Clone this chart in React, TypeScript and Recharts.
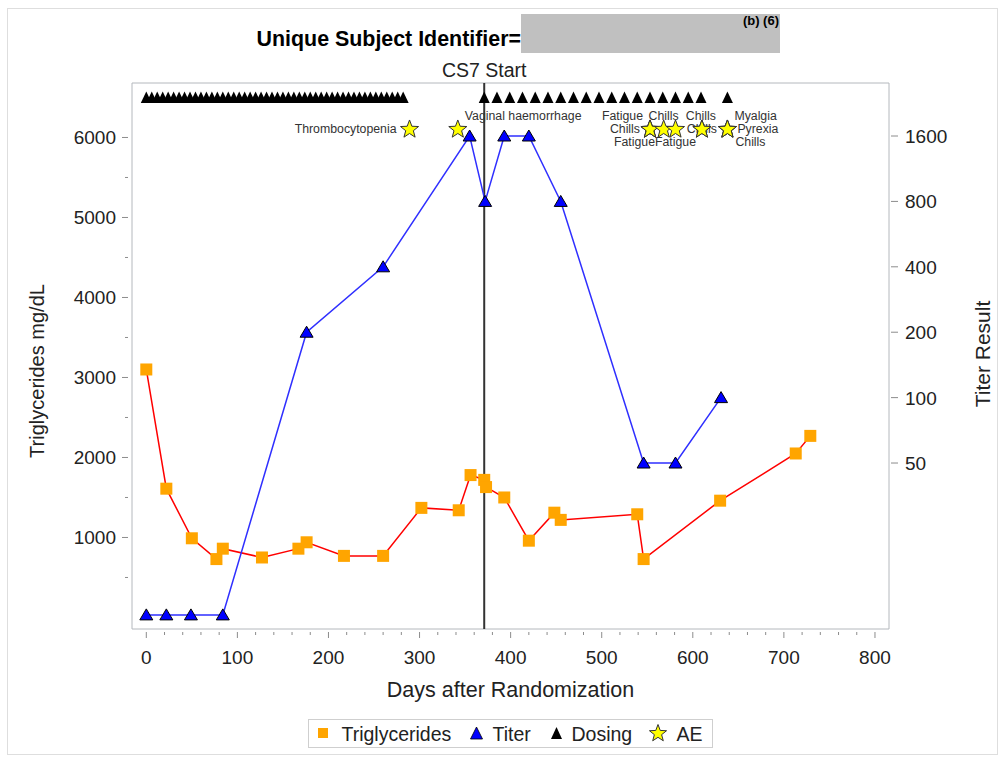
import React from 'react'
import {
  ComposedChart, Line, Scatter, XAxis, YAxis, ReferenceLine, ReferenceArea,
} from 'recharts'

const FONT = '"Liberation Sans", Arial, Helvetica, sans-serif'

// axis ranges
const X_MIN = -15.7
const X_MAX = 815.4
const L_MIN = -144
const L_MAX = 6681
const R_MIN = 8.61
const R_MAX = 2806

const X_TICKS = Array.from({ length: 41 }, (_, i) => i * 20) // major every 100
const L_TICKS = [500, 1000, 1500, 2000, 2500, 3000, 3500, 4000, 4500, 5000, 5500, 6000]
const R_TICKS = [50, 100, 200, 400, 800, 1600]

// triglycerides (mg/dL)
const TG_DAYS = [0, 22, 50, 77, 84, 127, 167, 176, 217, 260, 302, 343, 356, 371, 373, 393, 420, 448, 455, 539, 546, 630, 713, 729]
const TG_VALUES = [3100, 1610, 990, 730, 860, 750, 860, 940, 770, 770, 1370, 1340, 1780, 1720, 1630, 1500, 960, 1310, 1220, 1290, 730, 1460, 2050, 2270]

// titer
const TITER_DAYS = [0, 22, 49, 84, 176, 260, 355, 372, 393, 420, 455, 546, 581, 631]
const TITER_VALUES = [10, 10, 10, 10, 200, 400, 1600, 800, 1600, 1600, 800, 50, 50, 100]

// dosing
const DOSE_DAYS = [
  0, 6, 12, 18, 24, 30, 36, 42, 48, 54, 60, 66, 72, 78, 84, 90, 96, 102, 108, 114, 120, 126, 132, 138,
  144, 150, 156, 162, 168, 174, 180, 186, 192, 198, 204, 210, 216, 222, 228, 234, 240, 246, 252, 258,
  264, 270, 276, 282,
  371, 385, 399, 413, 427, 441, 455, 469, 483, 497, 511, 525, 539, 553, 567, 581, 595, 609, 638,
]
const DOSE_LEVEL = 6500

// adverse events
const AE_DAYS = [289, 342, 553, 553, 553, 568, 581, 610, 610, 638, 638, 638]
const AE_TERMS = [
  'Thrombocytopenia', 'Vaginal haemorrhage', 'Fatigue', 'Chills', 'Fatigue', 'Chills',
  'Fatigue', 'Chills', 'Chills', 'Myalgia', 'Pyrexia', 'Chills',
]
const AE_LEVEL = 6100

const CS7_START = 371

// label placement around each star: dx, dy, anchor
const AE_LABEL_POS: [number, number, 'start' | 'middle' | 'end'][] = [
  [-13, 0, 'end'], [7, -13, 'start'], [-7, -13, 'end'], [-10, 0, 'end'], [5, 13, 'end'],
  [0, -13, 'middle'], [0, 13, 'middle'], [-1, -13, 'middle'], [0, 0, 'middle'],
  [7, -13, 'start'], [10, 0, 'start'], [8, 13, 'start'],
]

const tgData = TG_DAYS.map((day, i) => ({ day, tg: TG_VALUES[i] }))
const titerData = TITER_DAYS.map((day, i) => ({ day, titer: TITER_VALUES[i] }))
const doseData = DOSE_DAYS.map(day => ({ day, y: DOSE_LEVEL }))
const aeData = AE_DAYS.map((day, i) => ({ day, y: AE_LEVEL, term: AE_TERMS[i], idx: i }))

const TICK_COLOR = '#8c8c8c'
const TEXT_COLOR = '#222'
const TICK_FONT = 19

function starPoints(cx: number, cy: number, ro: number, ri: number) {
  const pts: string[] = []
  for (let k = 0; k < 10; k++) {
    const r = k % 2 === 0 ? ro : ri
    const a = -Math.PI / 2 + (k * Math.PI) / 5
    pts.push(`${cx + r * Math.cos(a)},${cy + r * Math.sin(a)}`)
  }
  return pts.join(' ')
}

const XTick = (p: any) => {
  const v = p.payload.value
  const major = v % 100 === 0
  return (
    <g>
      <line x1={p.x} x2={p.x} y1={p.y + 3} y2={p.y + (major ? 9 : 6)} stroke={TICK_COLOR} />
      {major && (
        <text x={p.x} y={p.y + 34.5} textAnchor="middle" fontSize={TICK_FONT} fill={TEXT_COLOR} fontFamily={FONT}>
          {v}
        </text>
      )}
    </g>
  )
}

const LeftTick = (p: any) => {
  const v = p.payload.value
  const major = v % 1000 === 0
  return (
    <g>
      <line x1={p.x - (major ? 10 : 7)} x2={p.x - 4} y1={p.y} y2={p.y} stroke={TICK_COLOR} />
      {major && (
        <text x={p.x - 16} y={p.y + 7} textAnchor="end" fontSize={TICK_FONT} fill={TEXT_COLOR} fontFamily={FONT}>
          {v}
        </text>
      )}
    </g>
  )
}

const RightTick = (p: any) => (
  <g>
    <line x1={p.x + 2} x2={p.x + 9} y1={p.y} y2={p.y} stroke={TICK_COLOR} />
    <text x={p.x + 16} y={p.y + 7} textAnchor="start" fontSize={TICK_FONT} fill={TEXT_COLOR} fontFamily={FONT}>
      {p.payload.value}
    </text>
  </g>
)

const Square = (p: any) => (
  <rect x={p.cx - 6} y={p.cy - 6} width={12} height={12} fill="#ffa500" />
)

const TiterDot = (p: any) => (
  <polygon
    key={`t${p.index}`}
    points={`${p.cx},${p.cy - 6} ${p.cx - 6.5},${p.cy + 5} ${p.cx + 6.5},${p.cy + 5}`}
    fill="#0000ff"
    stroke="#000"
    strokeWidth={1}
  />
)

const DoseMark = (p: any) => (
  <polygon
    points={`${p.cx},${p.cy - 6} ${p.cx - 5.5},${p.cy + 5.5} ${p.cx + 5.5},${p.cy + 5.5}`}
    fill="#000"
  />
)

const AeLabel = (p: any) => {
  const [dx, dy, anchor] = AE_LABEL_POS[p.payload.idx]
  return (
    <text
      x={p.cx + dx}
      y={p.cy + dy}
      textAnchor={anchor}
      dominantBaseline="central"
      fontSize={12.3}
      fill="#333"
      fontFamily={FONT}
    >
      {p.payload.term}
    </text>
  )
}

const AeStar = (p: any) => (
  <polygon points={starPoints(p.cx, p.cy, 9.5, 4)} fill="#ffff00" stroke="#333" strokeWidth={1} />
)

function Decorations() {
  const t = { fontSize: 19.5, fill: TEXT_COLOR, fontFamily: FONT }
  return (
    <svg width={1003} height={759} style={{ position: 'absolute', left: 0, top: 0, pointerEvents: 'none' }}>
      <rect x={7.5} y={8.5} width={990} height={746} fill="none" stroke="#dedede" />
      {/* title */}
      <text x={521} y={45.5} textAnchor="end" fontSize={21.4} fontWeight="bold" fill="#000" fontFamily={FONT}>
        Unique Subject Identifier=
      </text>
      <rect x={521} y={14} width={259} height={39} fill="#c0c0c0" />
      <text x={779} y={25} textAnchor="end" fontSize={13} fontWeight="bold" fill="#000" fontFamily={FONT}>
        (b) (6)
      </text>
      {/* axis titles */}
      <text x={0} y={0} transform="translate(44 371) rotate(-90)" textAnchor="middle" fontSize={20} fill={TEXT_COLOR} fontFamily={FONT}>
        Triglycerides mg/dL
      </text>
      <text x={0} y={0} transform="translate(990 354) rotate(-90)" textAnchor="middle" fontSize={21} fill={TEXT_COLOR} fontFamily={FONT}>
        Titer Result
      </text>
      <text x={510.5} y={697} textAnchor="middle" fontSize={21.5} fill={TEXT_COLOR} fontFamily={FONT}>
        Days after Randomization
      </text>
      {/* legend */}
      <rect x={308.5} y={719.5} width={404} height={28} fill="#fff" stroke="#cfcfcf" />
      <rect x={318} y={728} width={10} height={10} fill="#ffa500" />
      <text x={341.5} y={740.5} {...t}>Triglycerides</text>
      <polygon points="476.5,727 470.5,739 482.5,739" fill="#0000ff" stroke="#000" strokeWidth={0.8} />
      <text x={492.5} y={740.5} {...t}>Titer</text>
      <polygon points="556.5,727 551,739 562,739" fill="#000" />
      <text x={571.5} y={740.5} {...t}>Dosing</text>
      <polygon points={starPoints(658, 733.5, 9, 3.8)} fill="#ffff00" stroke="#333" strokeWidth={1} />
      <text x={676.5} y={740.5} {...t}>AE</text>
    </svg>
  )
}

export default function App() {
  return (
    <div style={{ position: 'absolute', left: 0, top: 0, width: 1003, height: 759, background: '#fff' }}>
      <ComposedChart
        width={1003}
        height={759}
        margin={{ top: 83, right: 1003 - 889 - 60, bottom: 759 - 629 - 60, left: 132 - 60 }}
      >
        <XAxis
          dataKey="day"
          type="number"
          domain={[X_MIN, X_MAX]}
          ticks={X_TICKS}
          interval={0}
          allowDataOverflow
          height={60}
          axisLine={false}
          tickLine={false}
          tickSize={0}
          tickMargin={0}
          tick={<XTick />}
        />
        <YAxis
          yAxisId="l"
          type="number"
          domain={[L_MIN, L_MAX]}
          ticks={L_TICKS}
          interval={0}
          allowDataOverflow
          width={60}
          axisLine={false}
          tickLine={false}
          tickSize={0}
          tickMargin={0}
          tick={<LeftTick />}
        />
        <YAxis
          yAxisId="r"
          orientation="right"
          type="number"
          scale="log"
          domain={[R_MIN, R_MAX]}
          ticks={R_TICKS}
          interval={0}
          allowDataOverflow
          width={60}
          axisLine={false}
          tickLine={false}
          tickSize={0}
          tickMargin={0}
          tick={<RightTick />}
        />
        <ReferenceArea
          yAxisId="l"
          x1={X_MIN}
          x2={X_MAX}
          y1={L_MIN}
          y2={L_MAX}
          fill="none"
          stroke="#b4b8bd"
          strokeWidth={1}
        />
        <ReferenceLine
          yAxisId="l"
          x={CS7_START}
          stroke="#333"
          strokeWidth={2}
          label={(props: any) => (
            <text
              x={props.viewBox.x}
              y={props.viewBox.y - 6}
              textAnchor="middle"
              fontSize={19.5}
              fill={TEXT_COLOR}
              fontFamily={FONT}
            >
              CS7 Start
            </text>
          )}
        />
        <Scatter yAxisId="l" data={tgData} dataKey="tg" shape={<Square />} isAnimationActive={false} />
        <Line
          yAxisId="l"
          data={tgData}
          dataKey="tg"
          type="linear"
          stroke="#ff0000"
          strokeWidth={1.5}
          dot={false}
          activeDot={false}
          isAnimationActive={false}
        />
        <Line
          yAxisId="r"
          data={titerData}
          dataKey="titer"
          type="linear"
          stroke="#2f2fff"
          strokeWidth={1.5}
          dot={<TiterDot />}
          activeDot={false}
          isAnimationActive={false}
        />
        <Scatter yAxisId="l" data={doseData} dataKey="y" shape={<DoseMark />} isAnimationActive={false} />
        <Scatter yAxisId="l" data={aeData} dataKey="y" shape={<AeLabel />} isAnimationActive={false} />
        <Scatter yAxisId="l" data={aeData} dataKey="y" shape={<AeStar />} isAnimationActive={false} />
      </ComposedChart>
      <Decorations />
    </div>
  )
}
